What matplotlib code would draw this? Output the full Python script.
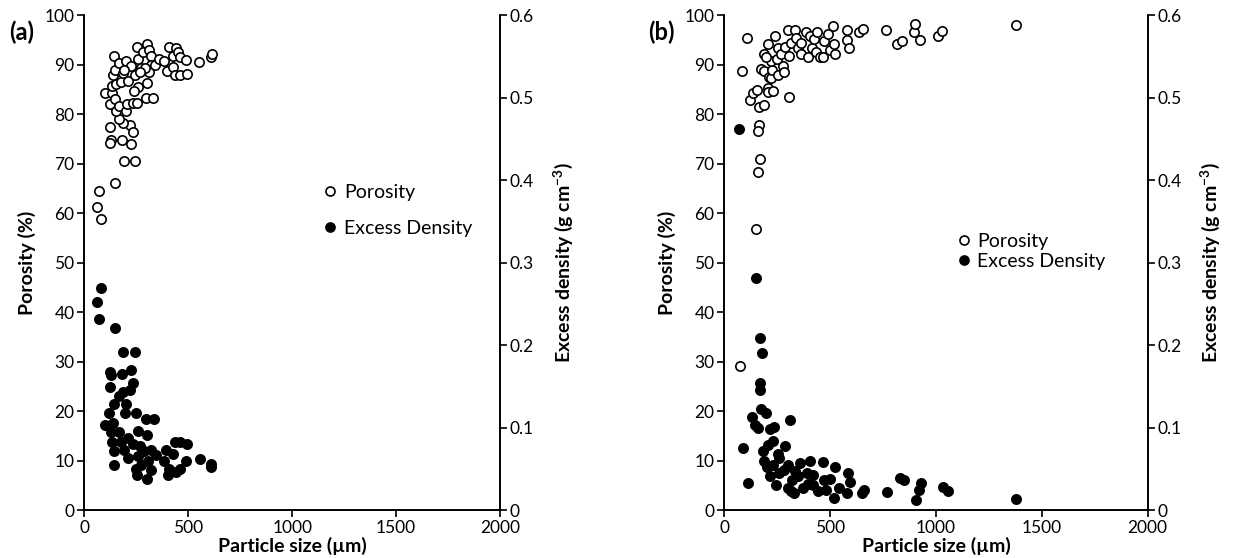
import matplotlib
matplotlib.use('Agg')
import matplotlib.pyplot as plt
from matplotlib.lines import Line2D

plt.rcParams['font.family'] = ['Lato', 'DejaVu Sans']
plt.rcParams['mathtext.fontset'] = 'custom'
plt.rcParams['mathtext.rm'] = 'Lato'
plt.rcParams['mathtext.bf'] = 'Lato:bold'

# (a) porosity
size_a_por = [69, 64, 80, 150, 190, 246, 126, 129, 126, 180, 227, 222, 237, 185, 166,
              98, 134, 126, 148, 153, 166, 201, 206, 233, 254, 298, 333, 261, 303, 301,
              254, 142, 137, 132, 148, 153, 177, 169, 201, 185, 212, 225, 245, 261, 274,
              282, 314, 322, 322, 311, 341, 293, 266, 362, 386, 399, 407, 427, 427, 435,
              443, 451, 459, 459, 491, 494, 552, 612, 615, 241, 193]
por_a = [64.4, 61.3, 58.8, 66.1, 70.6, 70.6, 77.3, 74.7, 74.2, 74.7, 74.0, 77.7, 76.3, 78.2, 78.9,
         84.2, 84.2, 82.0, 83.1, 80.6, 81.6, 80.6, 82.0, 82.2, 82.2, 83.2, 83.2, 85.4, 86.2, 94.2,
         93.5, 91.8, 87.8, 85.6, 88.9, 86.0, 86.4, 90.4, 90.7, 88.2, 86.7, 89.8, 87.8, 91.1, 89.4,
         92.5, 92.9, 91.8, 90.0, 88.5, 90.0, 89.3, 88.5, 91.1, 90.7, 88.7, 93.6, 91.8, 89.6, 87.8,
         93.3, 92.5, 91.5, 87.8, 90.9, 88.0, 90.6, 91.5, 92.2, 84.6, 88.9]

# (a) excess density
size_a_ed = [80, 64, 69, 150, 188, 246, 126, 129, 180, 227, 237, 222, 122, 185, 169,
             145, 201, 121, 196, 250, 100, 137, 298, 335, 261, 303, 129, 169, 209, 134,
             177, 233, 266, 145, 193, 290, 322, 346, 145, 209, 258, 250, 274, 306, 254,
             303, 322, 394, 435, 459, 496, 427, 386, 410, 443, 402, 459, 491, 555, 609, 612]
ed_a = [0.269, 0.252, 0.232, 0.221, 0.192, 0.192, 0.167, 0.164, 0.165, 0.170, 0.154, 0.146, 0.149, 0.143, 0.138,
        0.128, 0.128, 0.118, 0.118, 0.118, 0.103, 0.106, 0.110, 0.110, 0.096, 0.091, 0.094, 0.094, 0.087, 0.082,
        0.083, 0.080, 0.078, 0.071, 0.073, 0.071, 0.073, 0.067, 0.055, 0.063, 0.065, 0.050, 0.055, 0.059, 0.043,
        0.038, 0.048, 0.073, 0.082, 0.082, 0.080, 0.068, 0.059, 0.050, 0.046, 0.043, 0.050, 0.060, 0.062, 0.056, 0.052]

# (b) porosity
size_b_por = [106, 84, 163, 160, 170, 160, 124, 135, 154, 166, 190, 206, 206, 230, 304,
              175, 190, 211, 222, 227, 219, 190, 195, 206, 240, 254, 254, 277, 281, 249,
              270, 286, 302, 306, 317, 333, 341, 349, 361, 365, 386, 397, 405, 413, 423,
              437, 433, 452, 468, 473, 492, 500, 512, 519, 524, 579, 579, 589, 638, 655,
              765, 818, 838, 897, 902, 924, 1008, 1031, 1376, 151, 76]
por_b = [95.3, 88.6, 77.7, 76.5, 71.0, 68.2, 82.8, 84.2, 84.9, 81.5, 81.9, 85.3, 84.4, 84.7, 83.5,
         89.1, 88.7, 87.5, 87.3, 88.9, 90.7, 92.2, 91.5, 94.1, 95.8, 93.3, 87.9, 89.7, 88.4, 91.1,
         92.2, 93.6, 96.9, 91.8, 94.4, 97.0, 95.4, 93.3, 92.2, 94.4, 96.5, 91.5, 95.8, 93.3, 95.1,
         96.5, 92.6, 91.5, 91.5, 94.7, 96.2, 92.9, 97.8, 94.2, 92.2, 96.9, 94.9, 93.3, 96.5, 97.1,
         96.9, 94.1, 94.7, 96.5, 98.2, 94.9, 95.7, 96.7, 98.0, 56.8, 29.1]

# (b) excess density
size_b_ed = [69, 151, 170, 178, 167, 171, 175, 198, 132, 143, 159, 214, 235, 309, 90,
             111, 183, 206, 230, 286, 254, 203, 246, 214, 302, 333, 405, 468, 524, 587,
             595, 397, 349, 500, 317, 444, 829, 850, 929, 919, 905, 771, 1033, 1057, 1376,
             260, 280, 320, 360, 420, 370, 480, 540, 650, 660, 580, 300, 230, 190, 260,
             330, 520, 470, 420, 390]
ed_b = [0.462, 0.281, 0.208, 0.190, 0.154, 0.146, 0.122, 0.118, 0.113, 0.103, 0.100, 0.098, 0.101, 0.109, 0.075,
        0.033, 0.071, 0.079, 0.084, 0.077, 0.068, 0.052, 0.030, 0.041, 0.054, 0.047, 0.060, 0.058, 0.052, 0.045,
        0.034, 0.032, 0.041, 0.037, 0.023, 0.023, 0.039, 0.036, 0.033, 0.024, 0.012, 0.022, 0.028, 0.023, 0.013,
        0.063, 0.048, 0.036, 0.057, 0.043, 0.027, 0.024, 0.027, 0.021, 0.024, 0.021, 0.027, 0.054, 0.060, 0.045,
        0.021, 0.015, 0.036, 0.030, 0.045]

x_ticks = [0, 500, 1000, 1500, 2000]
por_ticks = list(range(0, 101, 10))
ed_ticks = [0, 0.1, 0.2, 0.3, 0.4, 0.5, 0.6]
ed_ticklabels = ['0', '0.1', '0.2', '0.3', '0.4', '0.5', '0.6']

fig = plt.figure(figsize=(12.38, 5.58), dpi=100)

panels = [
    ([0.068, 0.086, 0.336, 0.887], size_a_por, por_a, size_a_ed, ed_a, '(a)', (0.545, 0.675), 1.0),
    ([0.585, 0.086, 0.342, 0.887], size_b_por, por_b, size_b_ed, ed_b, '(b)', (0.52, 0.575), 0.15),
]

for rect, xp, yp, xe, ye, tag, legpos, lspace in panels:
    ax = fig.add_axes(rect)
    ax2 = ax.twinx()

    ax.scatter(xp, yp, s=45, facecolor='white', edgecolor='black', linewidth=1.2, zorder=3)
    ax2.scatter(xe, ye, s=45, facecolor='black', edgecolor='black', linewidth=1.2, zorder=3)

    ax.set_xlim(0, 2000)
    ax.set_ylim(0, 100)
    ax2.set_ylim(0, 0.6)
    ax.set_xticks(x_ticks)
    ax.set_yticks(por_ticks)
    ax2.set_yticks(ed_ticks)
    ax2.set_yticklabels(ed_ticklabels)

    for a in (ax, ax2):
        a.spines['top'].set_visible(False)
        for sp in a.spines.values():
            sp.set_linewidth(1.2)
        a.tick_params(direction='out', length=5, width=1.2, labelsize=12.5, pad=2)

    ax.set_xlabel('Particle size (µm)', fontsize=14, fontweight='bold', labelpad=1)
    ax.set_ylabel('Porosity (%)', fontsize=14, fontweight='bold', labelpad=6)
    ax2.set_ylabel(r'Excess density (g cm$^{\mathbf{-3}}$)', fontsize=14, fontweight='bold', labelpad=12)

    ax.text(-0.18, 0.965, tag, transform=ax.transAxes, fontsize=17, fontweight='bold',
            ha='left', va='center')

    handles = [
        Line2D([], [], linestyle='none', marker='o', markersize=6.5, markerfacecolor='white',
               markeredgecolor='black', markeredgewidth=1.2),
        Line2D([], [], linestyle='none', marker='o', markersize=6.5, markerfacecolor='black',
               markeredgecolor='black', markeredgewidth=1.2),
    ]
    ax2.legend(handles, ['Porosity', 'Excess Density'], loc='upper left',
               bbox_to_anchor=legpos, frameon=False, fontsize=14,
               handletextpad=0.1, handlelength=1.2, labelspacing=lspace, borderaxespad=0)

plt.savefig('out.png', dpi=100)
